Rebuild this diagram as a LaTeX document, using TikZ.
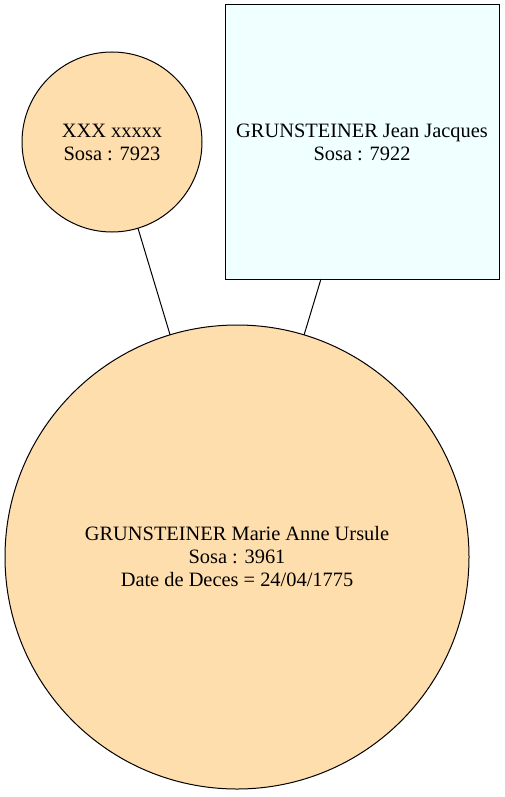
\documentclass[tikz,border=0pt]{standalone}
\usepackage{fontspec}
\setmainfont{Liberation Serif}
\usetikzlibrary{positioning}
\definecolor{navajo}{HTML}{FFDEAD}
\definecolor{azurelight}{HTML}{F0FFFF}

\begin{document}
\begin{tikzpicture}[x=1pt, y=-1pt,
    person/.style={draw, line width=1pt, inner sep=0pt, outer sep=0pt, align=center,
        font=\fontsize{20.4}{23}\selectfont},
    female/.style={person, circle, fill=navajo},
    male/.style={person, rectangle, fill=azurelight}]
\useasboundingbox (0,0) rectangle (505,797);

% Ancestors
\node[female, minimum size=180pt] (mother) at (112,142) {XXX xxxxx\\Sosa : 7923};
\node[male, minimum width=274pt, minimum height=274pt] (father) at (362,142)
    {GRUNSTEINER Jean Jacques\\Sosa : 7922};

% Descendant
\node[female, minimum size=464pt] (child) at (237,557)
    {GRUNSTEINER Marie Anne Ursule\\Sosa : 3961\\Date de Deces = 24/04/1775};

% Links
\draw[line width=1pt] (child) -- (mother);
\draw[line width=1pt] (child) -- (father);
\end{tikzpicture}
\end{document}
